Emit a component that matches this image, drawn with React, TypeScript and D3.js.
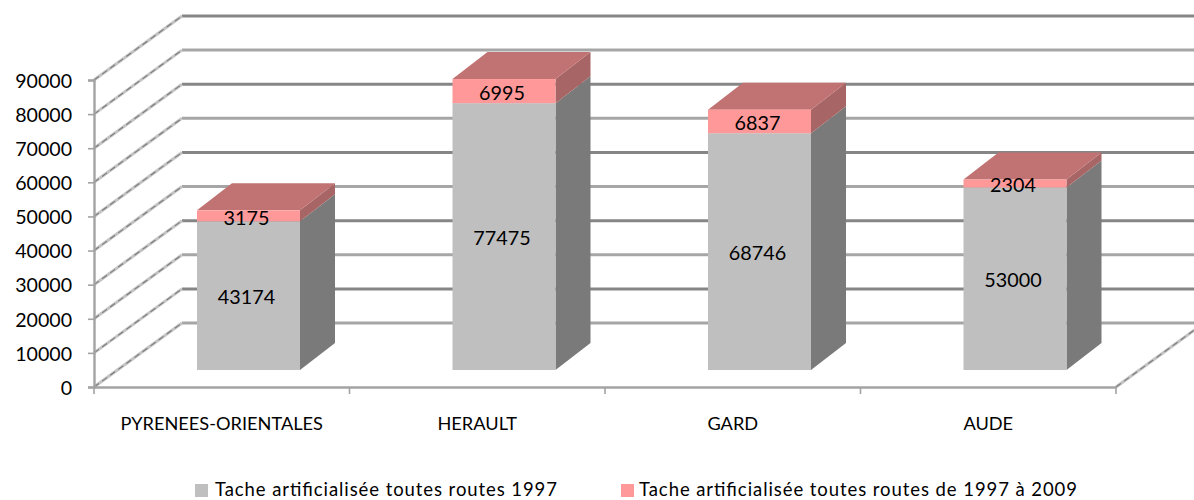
import * as d3 from 'd3';
import React, { useRef, useEffect } from 'react';

const categories = ['PYRENEES-ORIENTALES', 'HERAULT', 'GARD', 'AUDE'];
const base1997 = [43174, 77475, 68746, 53000];
const added = [3175, 6995, 6837, 2304];
const yTicks = [0, 10000, 20000, 30000, 40000, 50000, 60000, 70000, 80000, 90000];
const legendLabels = [
  'Tache artificialisée toutes routes 1997',
  'Tache artificialisée toutes routes de 1997 à 2009',
];

const FONT = 'Lato, "Open Sans", sans-serif';
const W = 1194;
const H = 500;

export default function App() {
  const ref = useRef<SVGSVGElement>(null);

  useEffect(() => {
    const svg = d3.select(ref.current);
    svg.selectAll('*').remove();

    const y = d3.scaleLinear().domain([0, 90000]).range([387, 80]);
    const x = d3.scaleBand().domain(categories).range([94, 1116]);
    const depthX = 88;
    const depthY = -64;
    // bars stand a little forward of the back wall
    const yBar = d3.scaleLinear().domain([0, 90000]).range([370, 60]);
    const barOff = 103;
    const barW = 103;
    const bdx = 35;
    const bdy = -27;

    const diagonal = (x1: number, y1: number, x2: number, y2: number) => {
      svg.append('line').attr('x1', x1).attr('y1', y1).attr('x2', x2).attr('y2', y2)
        .attr('stroke', '#c4c4c4').attr('stroke-width', 3);
      svg.append('line').attr('x1', x1).attr('y1', y1).attr('x2', x2).attr('y2', y2)
        .attr('stroke', '#7c7c7c').attr('stroke-width', 1.1).attr('stroke-dasharray', '6 4');
    };

    // back wall gridlines and their side-wall diagonals
    yTicks.forEach((t, i) => {
      svg.append('line')
        .attr('x1', 94 + depthX).attr('x2', 1116 + depthX)
        .attr('y1', y(t) + depthY).attr('y2', y(t) + depthY)
        .attr('stroke', i % 2 === 1 ? '#868686' : '#a6a6a6')
        .attr('stroke-width', 3);
      diagonal(94, y(t), 94 + depthX, y(t) + depthY);
    });
    diagonal(1116, y(0), 1116 + depthX, y(0) + depthY);

    // axes
    const yAxis = svg.append('g').attr('transform', 'translate(94,1)')
      .call(d3.axisLeft(y).tickValues(yTicks).tickFormat(d3.format('d')).tickSize(6).tickPadding(16));
    const xAxis = svg.append('g').attr('transform', 'translate(0,387)')
      .call(d3.axisBottom(x).tickSize(0).tickPadding(30));
    yAxis.selectAll('line').attr('transform', 'translate(0,-1)');
    yAxis.select('path').attr('transform', 'translate(0,-1)');
    [yAxis, xAxis].forEach((g) => {
      g.selectAll('path').attr('stroke', '#a3a3a3').attr('stroke-width', 2.4);
      g.selectAll('line').attr('stroke', '#a3a3a3').attr('stroke-width', 1.6);
      g.selectAll('text').attr('fill', '#000').style('font-family', FONT);
    });
    yAxis.selectAll('text').style('font-size', '19.6px');
    xAxis.selectAll('text').style('font-size', '18.2px');
    categories.concat('').forEach((c, i) => {
      const px = 94 + i * x.bandwidth();
      svg.append('line').attr('x1', px).attr('x2', px).attr('y1', 387).attr('y2', 394)
        .attr('stroke', '#a3a3a3').attr('stroke-width', 1.6);
    });

    // 3D stacked bars
    const poly = (pts: number[][], fill: string) =>
      svg.append('polygon').attr('points', pts.map((p) => p.join(',')).join(' ')).attr('fill', fill);

    categories.forEach((c, i) => {
      const x0 = (x(c) as number) + barOff;
      const x1 = x0 + barW;
      const y0 = yBar(0);
      const y1 = yBar(base1997[i]);
      const y2 = yBar(base1997[i] + added[i]);

      poly([[x1, y0], [x1 + bdx, y0 + bdy], [x1 + bdx, y1 + bdy], [x1, y1]], '#7a7a7a');
      poly([[x1, y1], [x1 + bdx, y1 + bdy], [x1 + bdx, y2 + bdy], [x1, y2]], '#a86565');
      poly([[x0, y2], [x1, y2], [x1 + bdx, y2 + bdy], [x0 + bdx, y2 + bdy]], '#c17272');
      svg.append('rect').attr('x', x0).attr('y', y1).attr('width', barW).attr('height', y0 - y1).attr('fill', '#bfbfbf');
      svg.append('rect').attr('x', x0).attr('y', y2).attr('width', barW).attr('height', y1 - y2).attr('fill', '#ff9999');

      const label = (v: number, cy: number) =>
        svg.append('text').attr('x', x0 + barW / 2 - 2).attr('y', cy).attr('dy', '0.35em')
          .attr('text-anchor', 'middle').style('font-family', FONT).style('font-size', '19.8px')
          .attr('fill', '#000').text(v);
      label(base1997[i], (y0 + y1) / 2 + 1);
      label(added[i], (y1 + y2) / 2 + 2);
    });

    // legend
    const legendX = [195, 621];
    const legendLen = [342, 438];
    const legendColours = ['#bfbfbf', '#ff9999'];
    legendLabels.forEach((t, i) => {
      svg.append('rect').attr('x', legendX[i]).attr('y', 484).attr('width', 13).attr('height', 13)
        .attr('fill', legendColours[i]);
      svg.append('text').attr('x', legendX[i] + (i === 0 ? 20 : 18)).attr('y', 496)
        .attr('textLength', legendLen[i]).attr('lengthAdjust', 'spacing')
        .style('font-family', FONT).style('font-size', '18.5px').attr('fill', '#000').text(t);
    });
  }, []);

  return (
    <svg ref={ref} width={W} height={H}
      style={{ position: 'absolute', left: 0, top: 0, display: 'block', background: '#fff' }} />
  );
}
